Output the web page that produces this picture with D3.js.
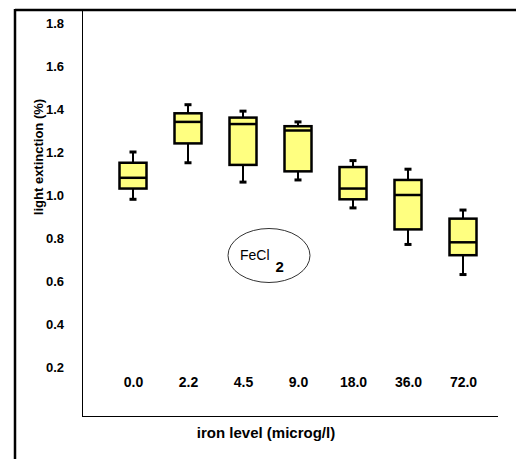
<!DOCTYPE html>
<html>
<head>
<meta charset="utf-8">
<script src="https://cdn.jsdelivr.net/npm/d3@7"></script>
<style>
  body { margin: 0; background: #fff; }
  text { font-family: "Liberation Sans", Arial, sans-serif; }
</style>
</head>
<body>
<div id="viz"></div>
<script>
// iron levels and the box summaries
const levels = ["0.0", "2.2", "4.5", "9.0", "18.0", "36.0", "72.0"]
const whiskerHigh = [1.20, 1.42, 1.39, 1.34, 1.16, 1.12, 0.93]
const q3 = [1.15, 1.38, 1.36, 1.32, 1.13, 1.07, 0.89]
const median = [1.08, 1.34, 1.33, 1.30, 1.03, 1.00, 0.78]
const q1 = [1.03, 1.24, 1.14, 1.11, 0.98, 0.84, 0.72]
const whiskerLow = [0.98, 1.15, 1.06, 1.07, 0.94, 0.77, 0.63]
const yTicks = [0.2, 0.4, 0.6, 0.8, 1.0, 1.2, 1.4, 1.6, 1.8]

const width = 516
const height = 459

const svg = d3.select("#viz").append("svg")
    .attr("width", width)
    .attr("height", height)

const x = d3.scalePoint()
    .domain(levels)
    .range([133, 463])

const y = d3.scaleLinear()
    .domain([0, 1.8])
    .range([410, 23])

// outer frame (top + left, heavy)
svg.append("line")
    .attr("x1", 15).attr("x2", width).attr("y1", 10).attr("y2", 10)
    .attr("stroke", "#000").attr("stroke-width", 2.5)
svg.append("line")
    .attr("x1", 15).attr("x2", 15).attr("y1", 9).attr("y2", height)
    .attr("stroke", "#000").attr("stroke-width", 2.5)

// plot frame (left + bottom, thin)
svg.append("line")
    .attr("x1", 82.5).attr("x2", 82.5).attr("y1", 10).attr("y2", 416.5)
    .attr("stroke", "#000").attr("stroke-width", 1)
svg.append("line")
    .attr("x1", 82).attr("x2", 498).attr("y1", 416.5).attr("y2", 416.5)
    .attr("stroke", "#000").attr("stroke-width", 1)

// y axis labels
const yAxis = svg.append("g")
    .attr("transform", "translate(82,0)")
    .call(d3.axisLeft(y).tickValues(yTicks).tickSize(0).tickPadding(18).tickFormat(d3.format(".1f")))
yAxis.select(".domain").remove()
yAxis.selectAll("text")
    .style("font-size", "13px")
    .style("font-weight", "bold")
    .attr("fill", "#000")

// x axis labels
const xAxis = svg.append("g")
    .attr("transform", "translate(0,377)")
    .call(d3.axisBottom(x).tickSize(0).tickPadding(0))
xAxis.select(".domain").remove()
xAxis.selectAll("text")
    .style("font-size", "14px")
    .style("font-weight", "bold")
    .attr("fill", "#000")

// boxes
const boxW = 27
const capW = 7
const g = svg.append("g")

levels.forEach(function(lv, i) {
    const cx = x(lv)
    // whiskers
    g.append("line")
        .attr("x1", cx).attr("x2", cx)
        .attr("y1", y(whiskerHigh[i])).attr("y2", y(q3[i]))
        .attr("stroke", "#000").attr("stroke-width", 2)
    g.append("line")
        .attr("x1", cx).attr("x2", cx)
        .attr("y1", y(q1[i])).attr("y2", y(whiskerLow[i]))
        .attr("stroke", "#000").attr("stroke-width", 2)
    // caps
    ;[whiskerHigh[i], whiskerLow[i]].forEach(function(v) {
        g.append("line")
            .attr("x1", cx - capW / 2).attr("x2", cx + capW / 2)
            .attr("y1", y(v)).attr("y2", y(v))
            .attr("stroke", "#000").attr("stroke-width", 3)
    })
    // box
    g.append("rect")
        .attr("x", cx - boxW / 2)
        .attr("y", y(q3[i]))
        .attr("width", boxW)
        .attr("height", y(q1[i]) - y(q3[i]))
        .attr("fill", "#ffff80")
        .attr("stroke", "#000")
        .attr("stroke-width", 2.5)
    // median
    g.append("line")
        .attr("x1", cx - boxW / 2).attr("x2", cx + boxW / 2)
        .attr("y1", y(median[i])).attr("y2", y(median[i]))
        .attr("stroke", "#000").attr("stroke-width", 2.5)
})

// FeCl2 label in ellipse
svg.append("ellipse")
    .attr("cx", 269).attr("cy", 255.5)
    .attr("rx", 41).attr("ry", 27)
    .attr("fill", "none")
    .attr("stroke", "#333")
    .attr("stroke-width", 1)
const fe = svg.append("text")
    .attr("x", 240).attr("y", 260)
    .style("font-size", "14px")
    .attr("fill", "#000")
fe.append("tspan").text("FeCl")
fe.append("tspan").attr("dx", 6).attr("dy", 12).style("font-size", "15px").style("font-weight", "bold").text("2")

// axis titles
svg.append("text")
    .attr("transform", "translate(43,157) rotate(-90)")
    .attr("text-anchor", "middle")
    .style("font-size", "13px")
    .style("font-weight", "bold")
    .attr("fill", "#000")
    .text("light  extinction (%)")

svg.append("text")
    .attr("x", 266).attr("y", 438)
    .attr("text-anchor", "middle")
    .style("font-size", "15px")
    .style("font-weight", "bold")
    .attr("fill", "#000")
    .text("iron level (microg/l)")
</script>
</body>
</html>
